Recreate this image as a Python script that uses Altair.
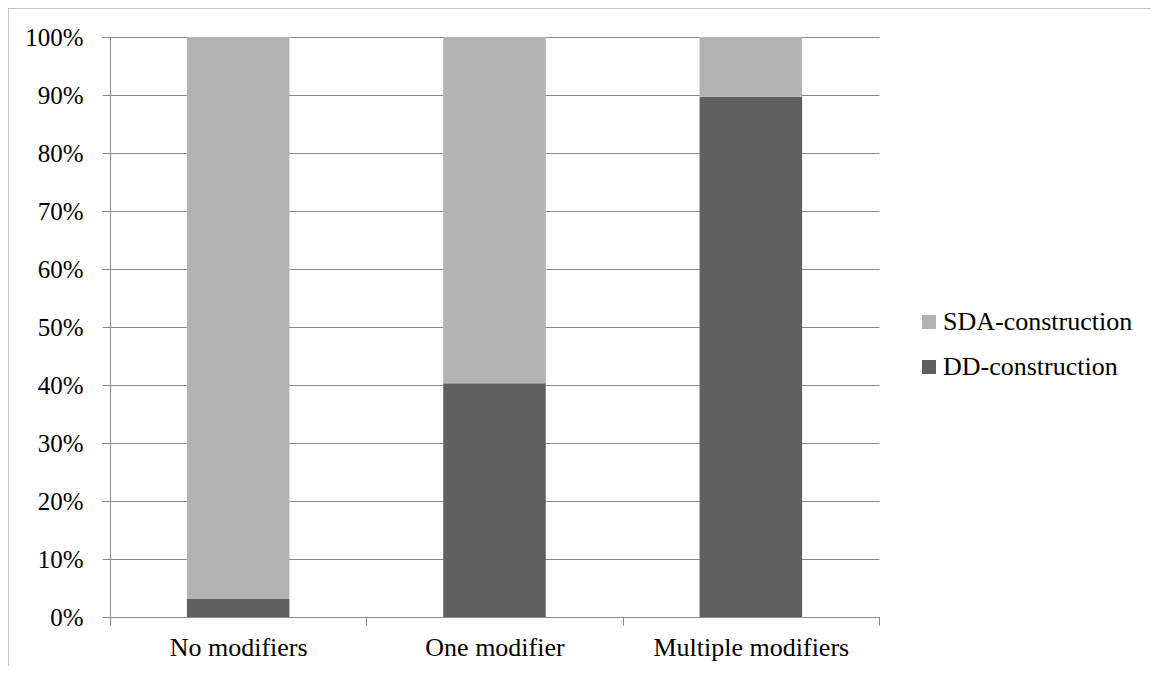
import altair as alt
import pandas as pd

categories = ["No modifiers", "One modifier", "Multiple modifiers"]
series = ["SDA-construction", "DD-construction"]
dd_values = [3.1, 40.3, 89.7]
sda_values = [96.9, 59.7, 10.3]
colors = ["#b2b2b2", "#606060"]

rows = []
for c, d, s in zip(categories, dd_values, sda_values):
    rows.append({"category": c, "series": "DD-construction", "value": d, "stack": 0})
    rows.append({"category": c, "series": "SDA-construction", "value": s, "stack": 1})
df = pd.DataFrame(rows)

FONT = "'Liberation Serif', 'Times New Roman', Times, serif"
GRID = "#8a8a8a"

bars = alt.Chart(df).mark_bar(width=alt.RelativeBandSize(0.4)).encode(
    x=alt.X("category:N", sort=categories,
            scale=alt.Scale(paddingInner=0, paddingOuter=0),
            axis=alt.Axis(title=None, tickBand="extent", labelAngle=0, grid=False,
                          domainColor=GRID, tickColor=GRID, tickSize=8,
                          labelFont=FONT, labelFontSize=26, labelColor="#000000",
                          labelPadding=9, labelLimit=0)),
    y=alt.Y("value:Q", stack="zero",
            scale=alt.Scale(domain=[0, 100], nice=False),
            axis=alt.Axis(title=None, values=list(range(0, 101, 10)),
                          labelExpr="datum.value + '%'",
                          grid=True, gridColor=GRID, gridOpacity=1,
                          domainColor=GRID, tickColor=GRID, tickSize=8,
                          labelFont=FONT, labelFontSize=25, labelColor="#000000",
                          labelPadding=19)),
    color=alt.Color("series:N",
                    scale=alt.Scale(domain=series, range=colors),
                    legend=alt.Legend(title=None, orient="none", legendX=806, legendY=272,
                                      symbolType="square", symbolSize=196,
                                      symbolStrokeWidth=0, labelFont=FONT,
                                      labelFontSize=26, labelColor="#000000",
                                      labelOffset=1, rowPadding=19, padding=0,
                                      labelLimit=0)),
    order=alt.Order("stack:Q"),
)

frame_data = alt.Data(values=[{"k": 1}])
frame_top = alt.Chart(frame_data).mark_rule(color=GRID, strokeWidth=1).encode(
    x=alt.value(-102), x2=alt.value(1300), y=alt.value(-29))
frame_left = alt.Chart(frame_data).mark_rule(color=GRID, strokeWidth=1).encode(
    x=alt.value(-102), y=alt.value(-29), y2=alt.value(800))

chart = alt.layer(bars, frame_top, frame_left).properties(
    width=769, height=580,
    autosize=alt.AutoSizeParams(type="none"),
    padding={"left": 102, "top": 29, "right": 272, "bottom": 49},
).configure_view(strokeWidth=0)

chart.save("out.html", embed_options={"renderer": "svg", "actions": False})
